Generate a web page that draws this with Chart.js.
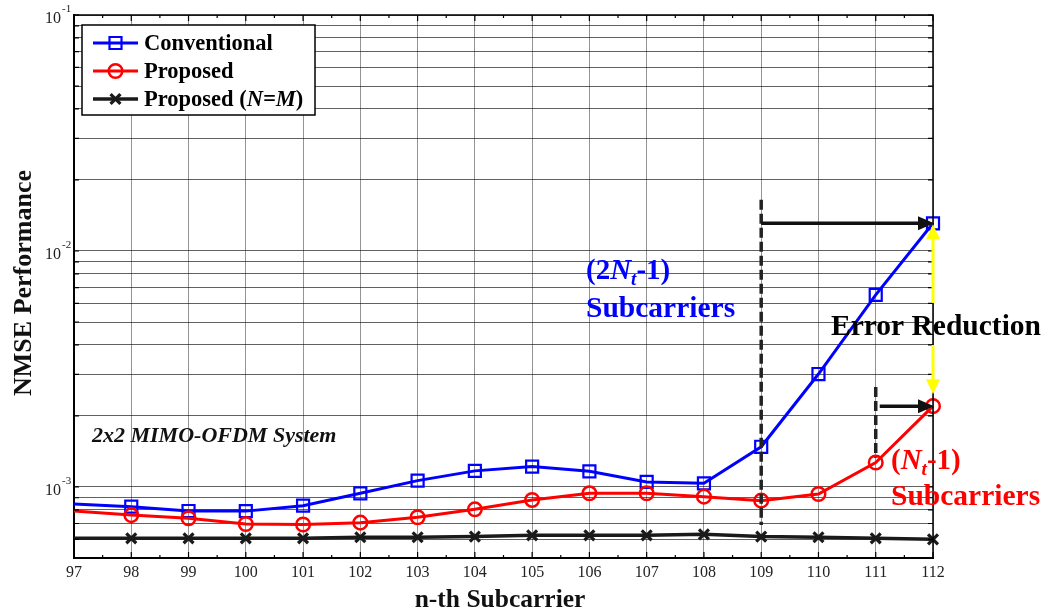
<!DOCTYPE html>
<html><head><meta charset="utf-8">
<script src="https://cdn.jsdelivr.net/npm/chart.js@4.4.1/dist/chart.umd.min.js"></script>
<style>html,body{margin:0;padding:0;background:#fff;}canvas{display:block;}</style>
</head><body>
<canvas id="c" width="1050" height="610"></canvas>
<script>
// ---------- DATA ----------
const subcarriers = [97,98,99,100,101,102,103,104,105,106,107,108,109,110,111,112];
const conventional = [8.47e-4,8.25e-4,7.91e-4,7.9e-4,8.33e-4,9.4e-4,1.064e-3,1.17e-3,1.22e-3,1.165e-3,1.05e-3,1.036e-3,1.48e-3,3.01e-3,6.52e-3,1.31e-2];
const proposed = [7.9e-4,7.6e-4,7.37e-4,6.97e-4,6.93e-4,7.06e-4,7.44e-4,8.04e-4,8.81e-4,9.4e-4,9.4e-4,9.1e-4,8.75e-4,9.34e-4,1.27e-3,2.2e-3];
const proposedNM = [6.06e-4,6.06e-4,6.06e-4,6.06e-4,6.06e-4,6.12e-4,6.12e-4,6.16e-4,6.24e-4,6.24e-4,6.24e-4,6.3e-4,6.16e-4,6.12e-4,6.06e-4,6.0e-4];
const yTickValues = [5e-4,6e-4,7e-4,8e-4,9e-4,1e-3,2e-3,3e-3,4e-3,5e-3,6e-3,7e-3,8e-3,9e-3,1e-2,2e-2,3e-2,4e-2,5e-2,6e-2,7e-2,8e-2,9e-2,1e-1];
const yMajorTicks = [1e-3,1e-2,1e-1];
const yMajorExponents = ['-3','-2','-1'];
const seriesNames = ['Conventional','Proposed','Proposed '];
// annotation anchors in data units
const dash109 = {x:109, yTop:0.0165, yBottom:6.9e-4};
const dash111 = {x:111, yTop:2.65e-3, yBottom:1.33e-3};

const SERIF = '"Liberation Serif","Times New Roman",serif';

function arrowHead(ctx, x, y, dx, dy, len, half, color){
  const L = Math.hypot(dx,dy); const ux=dx/L, uy=dy/L;
  ctx.fillStyle=color; ctx.beginPath();
  ctx.moveTo(x,y);
  ctx.lineTo(x-ux*len - uy*half, y-uy*len + ux*half);
  ctx.lineTo(x-ux*len + uy*half, y-uy*len - ux*half);
  ctx.closePath(); ctx.fill();
}
function segs(ctx, parts, x, y){
  for(const p of parts){
    ctx.font = p[1];
    ctx.fillText(p[0], x, y + (p[2]||0));
    x += ctx.measureText(p[0]).width;
  }
  return x;
}

const annot = {
  id:'annot',
  afterDraw(chart){
    const ctx = chart.ctx, xs = chart.scales.x, ys = chart.scales.y, ca = chart.chartArea;
    ctx.save();
    // top & right borders
    ctx.strokeStyle='#000'; ctx.lineWidth=1.5;
    ctx.beginPath(); ctx.moveTo(ca.left, ca.top); ctx.lineTo(ca.right, ca.top); ctx.lineTo(ca.right, ca.bottom); ctx.stroke();
    // tick marks
    ctx.lineWidth=1.2;
    ctx.beginPath();
    for(const v of subcarriers){
      const px = xs.getPixelForValue(v);
      ctx.moveTo(px, ca.bottom); ctx.lineTo(px, ca.bottom-6);
      ctx.moveTo(px, ca.top); ctx.lineTo(px, ca.top+6);
      if(v<112){
        const ph = xs.getPixelForValue(v+0.5);
        ctx.moveTo(ph, ca.bottom); ctx.lineTo(ph, ca.bottom-3);
        ctx.moveTo(ph, ca.top); ctx.lineTo(ph, ca.top+3);
      }
    }
    for(const v of yTickValues){
      const py = ys.getPixelForValue(v);
      ctx.moveTo(ca.left, py); ctx.lineTo(ca.left+5, py);
      ctx.moveTo(ca.right, py); ctx.lineTo(ca.right-5, py);
    }
    ctx.stroke();

    // x tick labels
    ctx.fillStyle='#222'; ctx.font='16px '+SERIF; ctx.textAlign='center'; ctx.textBaseline='alphabetic';
    for(const v of subcarriers){ ctx.fillText(String(v), xs.getPixelForValue(v), ca.bottom+19); }
    // y tick labels (10^k)
    yMajorTicks.forEach((v,i)=>{
      const py = ys.getPixelForValue(v);
      ctx.textAlign='right'; ctx.font='16px '+SERIF;
      ctx.fillText('10', ca.left-13, py+8);
      ctx.textAlign='left'; ctx.font='11px '+SERIF;
      ctx.fillText(yMajorExponents[i], ca.left-12, py-3);
    });
    // axis titles
    ctx.fillStyle='#111'; ctx.textAlign='center';
    ctx.font='bold 25.5px '+SERIF;
    ctx.fillText('n-th Subcarrier', 500, 607);
    ctx.font='bold 26px '+SERIF;
    ctx.save(); ctx.translate(31, 283); ctx.rotate(-Math.PI/2);
    ctx.fillText('NMSE Performance', 0, 0); ctx.restore();

    // dashed lines
    ctx.strokeStyle='#222'; ctx.lineWidth=3.5; ctx.setLineDash([10,4]);
    ctx.beginPath();
    let px = xs.getPixelForValue(dash109.x);
    ctx.moveTo(px, ys.getPixelForValue(dash109.yTop)); ctx.lineTo(px, ys.getPixelForValue(dash109.yBottom));
    px = xs.getPixelForValue(dash111.x);
    ctx.moveTo(px, ys.getPixelForValue(dash111.yTop)); ctx.lineTo(px, ys.getPixelForValue(dash111.yBottom));
    ctx.stroke(); ctx.setLineDash([]);

    // black arrows
    const xEnd = xs.getPixelForValue(112);
    const yConv = ys.getPixelForValue(conventional[15]);
    const yProp = ys.getPixelForValue(proposed[15]);
    ctx.strokeStyle='#111'; ctx.lineWidth=3.5;
    ctx.beginPath();
    ctx.moveTo(xs.getPixelForValue(109), yConv); ctx.lineTo(xEnd-14, yConv);
    ctx.moveTo(xs.getPixelForValue(111)+4, yProp); ctx.lineTo(xEnd-14, yProp);
    ctx.stroke();
    arrowHead(ctx, xEnd+1, yConv, 1, 0, 16, 7, '#111');
    arrowHead(ctx, xEnd+1, yProp, 1, 0, 16, 7, '#111');

    // yellow double arrow (broken by text)
    ctx.strokeStyle='#ffff00'; ctx.lineWidth=3;
    ctx.beginPath();
    ctx.moveTo(xEnd, yConv+14); ctx.lineTo(xEnd, 303);
    ctx.moveTo(xEnd, 345); ctx.lineTo(xEnd, yProp-20);
    ctx.stroke();
    arrowHead(ctx, xEnd, yConv+1, 0, -1, 15, 7, '#ffff00');
    arrowHead(ctx, xEnd, yProp-12, 0, 1, 15, 7, '#ffff00');

    // texts
    ctx.textAlign='left';
    ctx.fillStyle='#0000ff';
    segs(ctx, [['(2','bold 29px '+SERIF],['N','bold italic 29px '+SERIF],['t','bold italic 19px '+SERIF,6],['-1)','bold 29px '+SERIF]], 586, 279);
    ctx.font='bold 29.5px '+SERIF; ctx.fillText('Subcarriers', 586, 317);
    ctx.fillStyle='#000';
    ctx.font='bold 29.5px '+SERIF; ctx.fillText('Error Reduction', 831, 335);
    ctx.fillStyle='#ff0000';
    segs(ctx, [['(','bold 29px '+SERIF],['N','bold italic 29px '+SERIF],['t','bold italic 19px '+SERIF,6],['-1)','bold 29px '+SERIF]], 891, 469);
    ctx.font='bold 29.5px '+SERIF; ctx.fillText('Subcarriers', 891, 505);
    ctx.fillStyle='#111';
    ctx.font='bold italic 22px '+SERIF; ctx.fillText('2x2 MIMO-OFDM System', 92, 442);

    // legend
    const lx=82, ly=25, lw=233, lh=90;
    ctx.fillStyle='#fff'; ctx.fillRect(lx,ly,lw,lh);
    ctx.strokeStyle='#000'; ctx.lineWidth=1.5; ctx.strokeRect(lx,ly,lw,lh);
    const rowsY=[43,71,99];
    chart.data.datasets.forEach((ds,i)=>{
      const y=rowsY[i];
      ctx.strokeStyle=ds.borderColor; ctx.lineWidth=ds.borderWidth;
      ctx.beginPath(); ctx.moveTo(93,y); ctx.lineTo(138,y); ctx.stroke();
      ctx.fillStyle='rgba(0,0,0,0)'; ctx.strokeStyle=ds.pointBorderColor; ctx.lineWidth=ds.pointBorderWidth;
      Chart.helpers.drawPoint(ctx, {pointStyle:ds.pointStyle, radius:ds.legendRadius, borderWidth:ds.pointBorderWidth}, 115.5, y);
      ctx.fillStyle='#000';
      const x2 = segs(ctx, [[seriesNames[i], 'bold 22.5px '+SERIF]], 144, y+7);
      if(i===2) segs(ctx, [['(','bold 22.5px '+SERIF],['N=M','bold italic 22.5px '+SERIF],[')','bold 22.5px '+SERIF]], x2, y+7);
    });
    ctx.restore();
  }
};

const mk = (vals)=>subcarriers.map((x,i)=>({x, y:vals[i]}));
const radii = (r)=>subcarriers.map((x,i)=>i===0?0:r);
const chart = new Chart(document.getElementById('c'), {
  type:'line',
  data:{datasets:[
    {label:'Conventional', data:mk(conventional), borderColor:'#0000ff', borderWidth:3, pointStyle:'rect', pointRadius:radii(8.5), legendRadius:8.5, pointBorderWidth:2.2, pointBorderColor:'#0000ff', pointBackgroundColor:'rgba(0,0,0,0)', order:1, clip:false},
    {label:'Proposed', data:mk(proposed), borderColor:'#ff0000', borderWidth:3, pointStyle:'circle', pointRadius:radii(6.8), legendRadius:6.8, pointBorderWidth:2.5, pointBorderColor:'#ff0000', pointBackgroundColor:'rgba(0,0,0,0)', order:0, clip:false},
    {label:'Proposed (N=M)', data:mk(proposedNM), borderColor:'#1a1a1a', borderWidth:3.5, pointStyle:'crossRot', pointRadius:radii(7), legendRadius:7, pointBorderWidth:3.2, pointBorderColor:'#1a1a1a', pointBackgroundColor:'#1a1a1a', order:2, clip:false}
  ]},
  options:{
    responsive:false, animation:false, devicePixelRatio:1,
    layout:{padding:{left:74,right:117,top:15,bottom:52}},
    plugins:{legend:{display:false}, tooltip:{enabled:false}},
    elements:{line:{tension:0}},
    scales:{
      x:{type:'linear', min:97, max:112,
         afterBuildTicks:(s)=>{s.ticks = subcarriers.map(v=>({value:v}));},
         ticks:{display:false}, grid:{color:'rgba(0,0,0,0.42)', lineWidth:1, drawTicks:false},
         border:{color:'#000', width:2}},
      y:{type:'logarithmic', min:5e-4, max:0.1,
         afterBuildTicks:(s)=>{s.ticks = yTickValues.map(v=>({value:v}));},
         ticks:{display:false}, grid:{color:'rgba(0,0,0,0.62)', lineWidth:1, drawTicks:false},
         border:{color:'#000', width:2}}
    }
  },
  plugins:[annot]
});
</script>
</body></html>
